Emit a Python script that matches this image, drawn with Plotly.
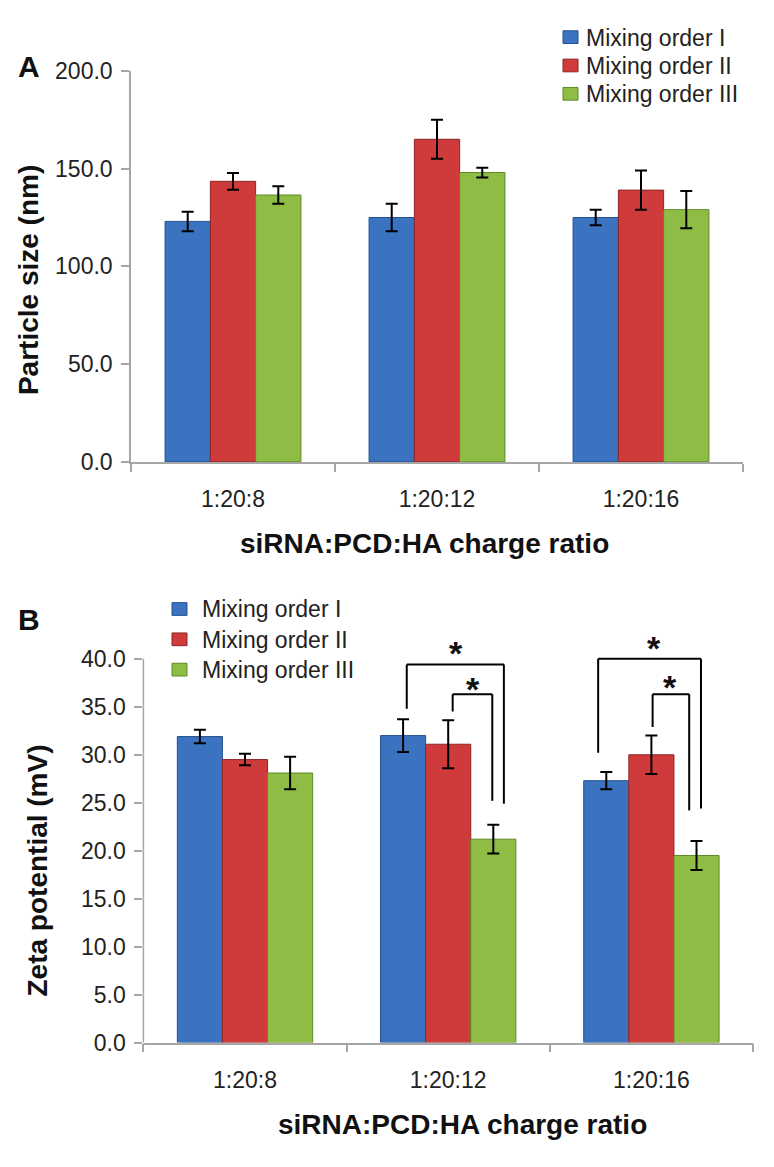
import plotly.graph_objects as go

# --- data ---------------------------------------------------------------
ratios = ["1:20:8", "1:20:12", "1:20:16"]
orders = ["Mixing order I", "Mixing order II", "Mixing order III"]

# panel A : particle size (nm)
size_I = [123.0, 125.0, 125.0]
size_II = [143.5, 165.0, 139.0]
size_III = [136.5, 148.0, 129.0]
size_err_I = [5.0, 7.0, 4.0]
size_err_II = [4.3, 10.0, 10.0]
size_err_III = [4.5, 2.5, 9.5]

# panel B : zeta potential (mV)
zeta_I = [31.9, 32.0, 27.3]
zeta_II = [29.5, 31.1, 30.0]
zeta_III = [28.1, 21.2, 19.5]
zeta_err_I = [0.7, 1.7, 0.9]
zeta_err_II = [0.6, 2.5, 2.0]
zeta_err_III = [1.7, 1.5, 1.5]

size_ticks = [0, 50, 100, 150, 200]
zeta_ticks = [0, 5, 10, 15, 20, 25, 30, 35, 40]

# significance brackets on panel B: left x, right x, left foot, right foot, top
brackets = [
    (0.796, 1.274, 34.8, 24.9, 39.4),
    (1.022, 1.217, 34.5, 25.2, 36.3),
    (1.738, 2.244, 30.2, 24.4, 40.0),
    (2.006, 2.186, 32.9, 24.2, 36.3),
]
stars = [(1.038, 41.4), (1.122, 37.7), (2.012, 42.0), (2.091, 37.9)]

colors = ["#3b73c1", "#cf3b3b", "#8fbc45"]
edges = ["#24508f", "#8f2424", "#5f8a25"]
axcol = "#a6a6a6"
txt = "#222222"
FONT = "Liberation Sans, Arial, sans-serif"

# page body has an 8px margin, so the figure is shifted by 8px
OFF = 8
W, H = 774 - OFF, 1167 - OFF


def px(x):
    return (x - OFF) / W


def py(y):
    return 1 - (y - OFF) / H


fig = go.Figure()

size_vals = [size_I, size_II, size_III]
size_errs = [size_err_I, size_err_II, size_err_III]
zeta_vals = [zeta_I, zeta_II, zeta_III]
zeta_errs = [zeta_err_I, zeta_err_II, zeta_err_III]

for i, name in enumerate(orders):
    fig.add_trace(go.Bar(
        x=ratios, y=size_vals[i], name=name,
        marker=dict(color=colors[i], line=dict(color=edges[i], width=1)),
        error_y=dict(type="data", array=size_errs[i], color="black", thickness=2, width=6),
        xaxis="x", yaxis="y",
    ))
for i, name in enumerate(orders):
    fig.add_trace(go.Bar(
        x=ratios, y=zeta_vals[i], name=name,
        marker=dict(color=colors[i], line=dict(color=edges[i], width=1)),
        error_y=dict(type="data", array=zeta_errs[i], color="black", thickness=2, width=6),
        xaxis="x2", yaxis="y2",
    ))

xcommon = dict(type="category", tickson="boundaries", ticks="outside", ticklen=8,
               tickwidth=1.5, tickcolor=axcol, showline=True, linecolor=axcol,
               linewidth=1.5, showgrid=False, ticklabelstandoff=16,
               tickfont=dict(size=23, color=txt, family=FONT))
ycommon = dict(ticks="outside", ticklen=8, tickwidth=1.5, tickcolor=axcol,
               showgrid=False, zeroline=False, tickformat=".1f", ticklabelstandoff=4,
               tickfont=dict(size=23, color=txt, family=FONT))

# panel B y-range goes a bit above 40 so the brackets fit; axis line drawn to 40 only
zeta_top = 43.5
b_bottom, b_per = 1053, 9.8125

fig.update_layout(
    width=W, height=H,
    margin=dict(l=0, r=0, t=0, b=0),
    paper_bgcolor="white", plot_bgcolor="white",
    font=dict(family=FONT, color=txt),
    barmode="group", bargap=0.334, bargroupgap=0,
    showlegend=False,
    xaxis=dict(domain=[px(131), px(743)], anchor="y", **xcommon),
    yaxis=dict(domain=[py(459), py(59)], anchor="x", range=[0, 200],
               tickvals=size_ticks, showline=True, linecolor=axcol, linewidth=1.5, **ycommon),
    xaxis2=dict(domain=[px(143.4), px(753)], anchor="y2", **xcommon),
    yaxis2=dict(domain=[py(b_bottom), py(b_bottom - zeta_top * b_per)], anchor="x2",
                range=[0, zeta_top], tickvals=zeta_ticks, showline=False, **ycommon),
)

shapes = [dict(type="line", xref="paper", yref="y2", x0=px(143.4), x1=px(143.4),
               y0=0, y1=40, line=dict(color=axcol, width=1.5))]
for xl, xr, yl, yr, top in brackets:
    for (x0, y0, x1, y1) in [(xl, yl, xl, top), (xl, top, xr, top), (xr, top, xr, yr)]:
        shapes.append(dict(type="line", xref="x2", yref="y2", x0=x0, y0=y0, x1=x1, y1=y1,
                           line=dict(color="black", width=2)))

ann = [
    dict(text="<b>A</b>", x=px(29), y=py(55), font=dict(size=30)),
    dict(text="<b>B</b>", x=px(29), y=py(620), font=dict(size=30)),
    dict(text="<b>siRNA:PCD:HA charge ratio</b>", x=px(424), y=py(543), font=dict(size=28)),
    dict(text="<b>siRNA:PCD:HA charge ratio</b>", x=px(462), y=py(1137), font=dict(size=28)),
    dict(text="<b>Particle size (nm)</b>", x=px(28), y=py(273), textangle=-90, font=dict(size=28)),
    dict(text="<b>Zeta potential (mV)</b>", x=px(38), y=py(877), textangle=-90, font=dict(size=28)),
]
for a in ann:
    a.update(xref="paper", yref="paper", showarrow=False, xanchor="center", yanchor="middle")
    a["font"].update(color="#111111", family=FONT)

# legends drawn as swatch + text, one block per panel
legend_blocks = [
    dict(sw_x=563, tx=584, rows=[25, 54, 83]),
    dict(sw_x=172, tx=200, rows=[610, 641, 672]),
]
for blk in legend_blocks:
    for i, name in enumerate(orders):
        yc = blk["rows"][i]
        shapes.append(dict(type="rect", xref="paper", yref="paper",
                           x0=px(blk["sw_x"]), x1=px(blk["sw_x"] + 15),
                           y0=py(yc + 6), y1=py(yc - 7),
                           fillcolor=colors[i], line=dict(color=edges[i], width=1)))
        ann.append(dict(text=name, x=px(blk["tx"]), y=py(yc), xref="paper", yref="paper",
                        showarrow=False, xanchor="left", yanchor="middle",
                        font=dict(size=23, color=txt, family=FONT)))

for sx, sy in stars:
    ann.append(dict(text="<b>*</b>", x=sx, y=sy, xref="x2", yref="y2", showarrow=False,
                    yshift=-8, font=dict(size=34, color="#111111", family=FONT)))

fig.update_layout(shapes=shapes, annotations=ann)

fig.write_html("out.html")
